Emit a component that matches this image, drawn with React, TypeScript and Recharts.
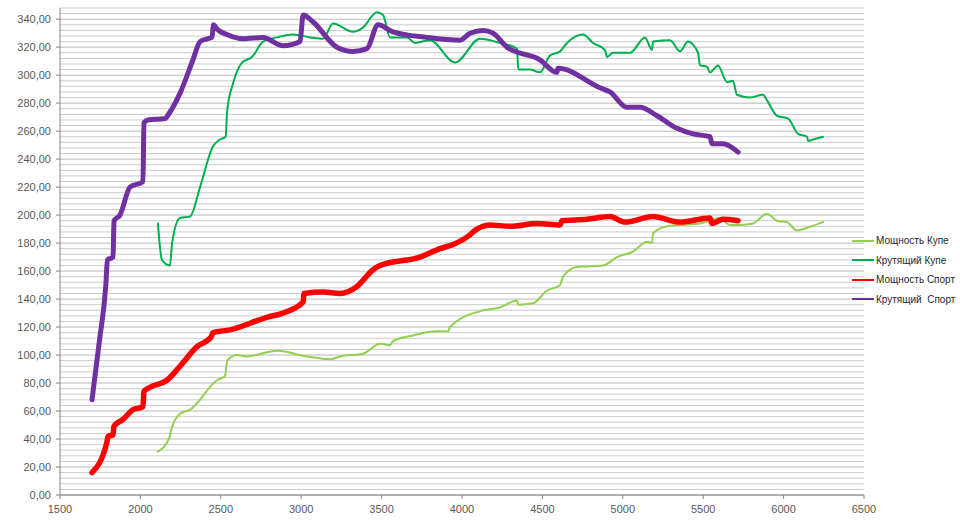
import { LineChart, Line, XAxis, YAxis, ReferenceLine } from "recharts";

// Мощность Купе
const powerCoupeRpm = [2109, 2184, 2190, 2246, 2309, 2476, 2526, 2540, 2600, 2663, 2787, 2850, 3036, 3179, 3241, 3384, 3490, 3552, 3571, 3695, 3844, 3913, 3925, 4131, 4236, 4342, 4350, 4441, 4528, 4610, 4628, 4715, 4877, 4964, 5064, 5151, 5182, 5188, 5275, 5356, 5480, 5604, 5666, 5729, 5810, 5897, 5959, 6021, 6083, 6146, 6245];
const powerCoupe = [31, 42, 46, 58, 61, 82, 85, 96, 100, 99, 102, 103, 99, 97, 99, 101, 108, 107, 110, 114, 117, 117, 120, 132, 134, 139, 136, 137, 146, 150, 156, 163, 164, 170, 174, 181, 180, 187, 192, 193, 194, 198, 193, 193, 194, 201, 196, 195, 189, 191, 195];

// Крутящий Купе
const torqueCoupeRpm = [2109, 2134, 2184, 2197, 2246, 2309, 2371, 2451, 2495, 2530, 2540, 2576, 2632, 2694, 2763, 2850, 2949, 3055, 3136, 3198, 3322, 3384, 3471, 3509, 3552, 3658, 3708, 3801, 3957, 4112, 4236, 4342, 4350, 4423, 4485, 4547, 4610, 4653, 4752, 4815, 4889, 4902, 4939, 5045, 5138, 5182, 5188, 5294, 5356, 5405, 5468, 5480, 5523, 5542, 5592, 5648, 5685, 5710, 5791, 5872, 5897, 5959, 6028, 6090, 6146, 6152, 6183, 6245];
const torqueCoupe = [194, 168, 164, 180, 198, 199, 220, 249, 254, 256, 275, 294, 309, 313, 324, 327, 329, 327, 326, 337, 331, 334, 345, 343, 327, 327, 323, 325, 309, 326, 323, 319, 304, 304, 302, 314, 317, 323, 329, 323, 318, 313, 316, 316, 327, 318, 324, 325, 317, 324, 316, 307, 306, 302, 307, 295, 296, 286, 284, 286, 282, 271, 269, 258, 256, 253, 254, 256];

// Мощность Спорт
const powerSportRpm = [1699, 1792, 1800, 1830, 1835, 1892, 1954, 2016, 2022, 2060, 2165, 2246, 2352, 2440, 2451, 2557, 2787, 2887, 3012, 3018, 3136, 3241, 3347, 3447, 3490, 3739, 3863, 3944, 4050, 4069, 4174, 4299, 4466, 4610, 4622, 4777, 4920, 5014, 5188, 5356, 5542, 5555, 5623, 5717];
const powerSport = [16, 38, 42, 43, 49, 54, 61, 63, 74, 77, 82, 92, 106, 113, 116, 118, 127, 130, 138, 144, 145, 144, 149, 161, 164, 170, 176, 179, 186, 188, 193, 192, 194, 193, 196, 197, 199, 195, 199, 195, 198, 194, 197, 196];

// Крутящий  Спорт
const torqueSportRpm = [1699, 1745, 1785, 1795, 1830, 1836, 1873, 1935, 2016, 2022, 2047, 2153, 2180, 2246, 2327, 2371, 2414, 2445, 2455, 2476, 2538, 2640, 2763, 2887, 2993, 3012, 3074, 3222, 3322, 3409, 3478, 3571, 3782, 3988, 4050, 4131, 4193, 4280, 4485, 4590, 4597, 4858, 4920, 5026, 5107, 5213, 5337, 5437, 5542, 5555, 5623, 5717];
const torqueSport = [68, 110, 150, 168, 170, 196, 200, 220, 224, 266, 268, 269, 273, 287, 311, 324, 326, 327, 336, 333, 329, 326, 327, 321, 324, 343, 338, 320, 317, 319, 336, 331, 327, 325, 330, 332, 330, 320, 311, 302, 305, 291, 288, 277, 277, 271, 262, 258, 256, 251, 251, 245];

const xTicks = [1500, 2000, 2500, 3000, 3500, 4000, 4500, 5000, 5500, 6000, 6500];
const yTicks = [0, 20, 40, 60, 80, 100, 120, 140, 160, 180, 200, 220, 240, 260, 280, 300, 320, 340];
const gridValues = Array.from({ length: 88 }, (_, i) => i * 4);

const zip = (xs: number[], ys: number[]) => xs.map((x, i) => ({ x, y: ys[i] }));

const series = [
  { name: "Мощность Купе", data: zip(powerCoupeRpm, powerCoupe), color: "#92D050", width: 2 },
  { name: "Крутящий Купе", data: zip(torqueCoupeRpm, torqueCoupe), color: "#00B050", width: 2 },
  { name: "Мощность Спорт", data: zip(powerSportRpm, powerSport), color: "#FF0000", width: 5.5 },
  { name: "Крутящий  Спорт", data: zip(torqueSportRpm, torqueSport), color: "#7030A0", width: 5 },
];

const font = "'Liberation Sans', Arial, sans-serif";

export default function App() {
  return (
    <div style={{ position: "absolute", left: 0, top: 0, width: 960, height: 531, background: "#fff", fontFamily: font }}>
      <LineChart width={960} height={531} margin={{ top: 8, right: 96, bottom: 6, left: 0 }}>
        {gridValues.map((v) => (
          <ReferenceLine
            key={v}
            y={v}
            stroke={v % 20 === 0 ? "#b8b8b8" : "#cccccc"}
            strokeWidth={1}
          />
        ))}
        <XAxis
          type="number"
          dataKey="x"
          domain={[1500, 6500]}
          ticks={xTicks}
          allowDataOverflow
          height={30}
          stroke="#868686"
          tickSize={4}
          tick={{ fill: "#595959", fontSize: 11, fontFamily: font }}
          tickMargin={6}
        />
        <YAxis
          type="number"
          dataKey="y"
          domain={[0, 348]}
          ticks={yTicks}
          allowDataOverflow
          width={60}
          stroke="#868686"
          tickSize={4}
          tickMargin={5}
          tick={{ fill: "#595959", fontSize: 11, fontFamily: font }}
          tickFormatter={(v: number) => v.toFixed(2).replace(".", ",")}
        />
        {series.map((s) => (
          <Line
            key={s.name}
            data={s.data}
            dataKey="y"
            name={s.name}
            type="monotone"
            stroke={s.color}
            strokeWidth={s.width}
            strokeLinecap="round"
            strokeLinejoin="round"
            dot={false}
            activeDot={false}
            isAnimationActive={false}
          />
        ))}
      </LineChart>
      <div style={{ position: "absolute", left: 852, top: 231 }}>
        {series.map((s) => (
          <div key={s.name} style={{ display: "flex", alignItems: "center", height: 19.5 }}>
            <div style={{ width: 22, height: 2, background: s.color, marginRight: 2 }} />
            <span style={{ fontSize: 10, color: "#262626", whiteSpace: "pre" }}>{s.name}</span>
          </div>
        ))}
      </div>
    </div>
  );
}
